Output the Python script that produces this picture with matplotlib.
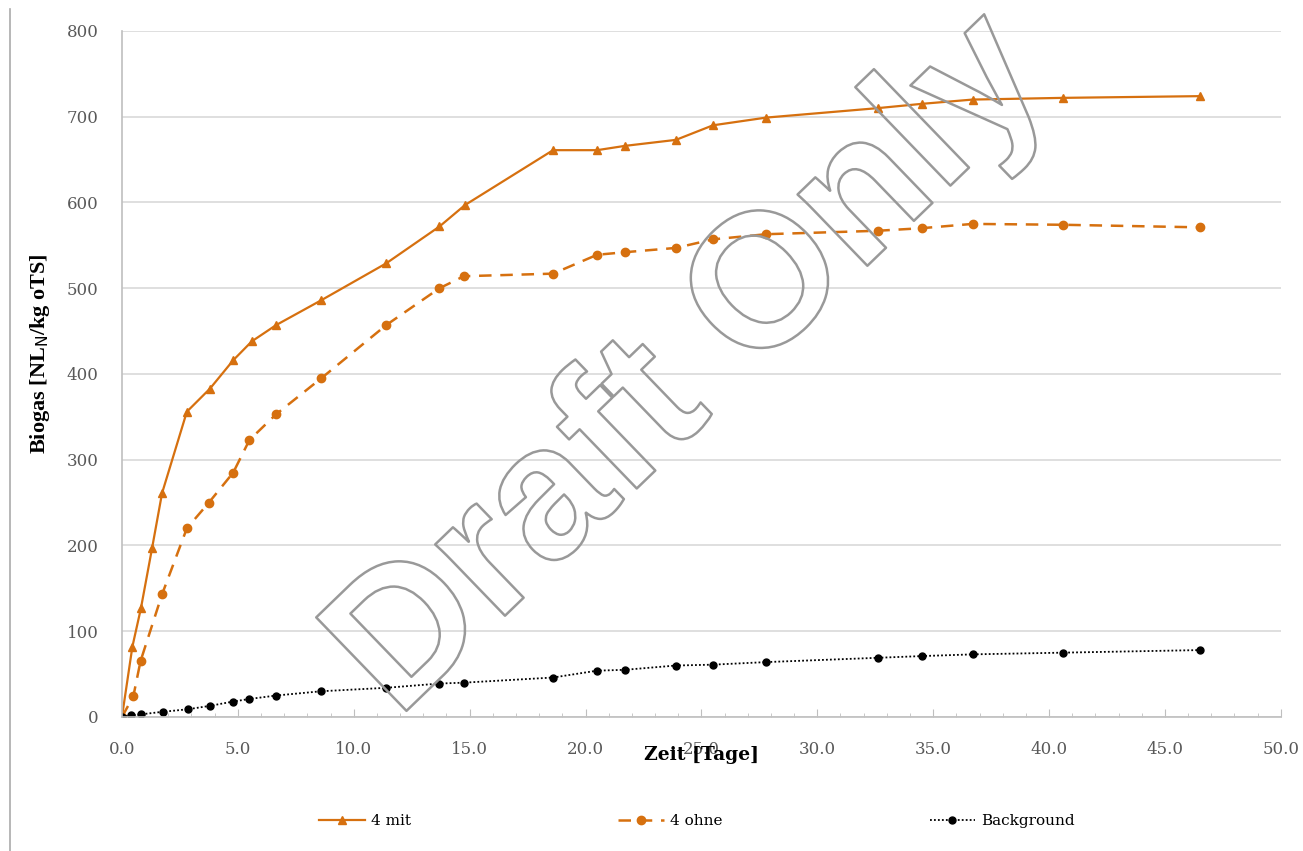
import numpy as np
import matplotlib.pyplot as plt
import matplotlib.patheffects as pe
from matplotlib.lines import Line2D
from matplotlib.ticker import MultipleLocator, FormatStrFormatter

# data
tage_mit = [0.0, 0.45, 0.82, 1.3, 1.73, 2.8, 3.8, 4.8, 5.6, 6.65, 8.6, 11.4, 13.7, 14.8,
            18.6, 20.5, 21.7, 23.9, 25.5, 27.8, 32.6, 34.5, 36.7, 40.6, 46.5]
mit = [0, 82, 127, 197, 261, 356, 383, 416, 438, 457, 486, 529, 572, 597,
       661, 661, 666, 673, 690, 699, 710, 715, 720, 722, 724]

tage_ohne = [0.0, 0.49, 0.8, 1.73, 2.8, 3.75, 4.8, 5.5, 6.65, 8.6, 11.4, 13.7, 14.75,
             18.6, 20.5, 21.7, 23.9, 25.5, 27.8, 32.6, 34.5, 36.7, 40.6, 46.5]
ohne = [0, 24, 65, 143, 220, 250, 285, 323, 353, 395, 457, 500, 514,
        517, 539, 542, 547, 557, 563, 567, 570, 575, 574, 571]

tage_bg = [0.0, 0.4, 0.8, 1.75, 2.85, 3.8, 4.8, 5.5, 6.65, 8.6, 11.4, 13.7, 14.75,
           18.6, 20.5, 21.7, 23.9, 25.5, 27.8, 32.6, 34.5, 36.7, 40.6, 46.5]
bg = [0, 2, 3, 6, 9, 13, 18, 21, 25, 30, 34, 39, 40,
      46, 54, 55, 60, 61, 64, 69, 71, 73, 75, 78]

orange = '#D6700F'
grau = '#595959'
serif = 'DejaVu Serif'

fig = plt.figure(figsize=(13.03, 8.51), dpi=100, facecolor='white')
ax = fig.add_axes([0.0936, 0.1575, 0.8894, 0.8061])

ax.plot(tage_mit, mit, color=orange, lw=1.6, marker='^', ms=6, label='4 mit')
ax.plot(tage_ohne, ohne, color=orange, lw=1.8, ls=(0, (5, 3.5)), marker='o', ms=6, label='4 ohne')
ax.plot(tage_bg, bg, color='black', lw=1.3, ls=(0, (1, 1.2)), marker='o', ms=5, label='Background')

ax.set_xlim(0, 50)
ax.set_ylim(0, 800)
ax.xaxis.set_major_locator(MultipleLocator(5))
ax.xaxis.set_minor_locator(MultipleLocator(1))
ax.xaxis.set_major_formatter(FormatStrFormatter('%.1f'))
ax.yaxis.set_major_locator(MultipleLocator(100))

ax.grid(axis='y', color='#d9d9d9', lw=1.2)
ax.set_axisbelow(True)
for s in ['top', 'right']:
    ax.spines[s].set_visible(False)
ax.spines['left'].set_color('#bfbfbf')
ax.spines['bottom'].set_color('#bfbfbf')
ax.spines['left'].set_linewidth(1.2)
ax.spines['bottom'].set_linewidth(1.2)

ax.tick_params(axis='y', length=0, pad=17, labelsize=12, labelcolor=grau)
ax.tick_params(axis='x', which='major', direction='in', length=6, color='#bfbfbf',
               pad=17, labelsize=12, labelcolor=grau)
ax.tick_params(axis='x', which='minor', direction='in', length=3, color='#bfbfbf')
for lab in ax.get_xticklabels() + ax.get_yticklabels():
    lab.set_family(serif)

ax.set_xlabel('Zeit [Tage]', family=serif, fontweight='bold', fontsize=13.5,
              labelpad=-8)
ax.set_ylabel(r'Biogas [NL$_\mathrm{N}$/kg oTS]', family='Liberation Serif',
              fontweight='bold', fontsize=16)
ax.yaxis.set_label_coords(-0.060, 0.53)

# legend below the chart
fig.legend(loc='center', bbox_to_anchor=(0.535, 0.035), ncol=3, frameon=False,
           prop={'family': serif, 'size': 11},
           handlelength=2.95, handletextpad=0.4, columnspacing=13.6)

# left border line
fig.add_artist(Line2D([0.0077, 0.0077], [0.0, 0.99], color='#aaaaaa', lw=1.2,
                      transform=fig.transFigure))

# watermark
fig.text(0.557, 0.527, 'Draft Only', family='Liberation Sans', fontweight='bold',
         fontsize=136, rotation=44, ha='center', va='baseline', rotation_mode='anchor',
         color='none', path_effects=[pe.Stroke(linewidth=1.8, foreground='#999999')],
         zorder=10)

fig.savefig('out.png', dpi=100, facecolor='white')
